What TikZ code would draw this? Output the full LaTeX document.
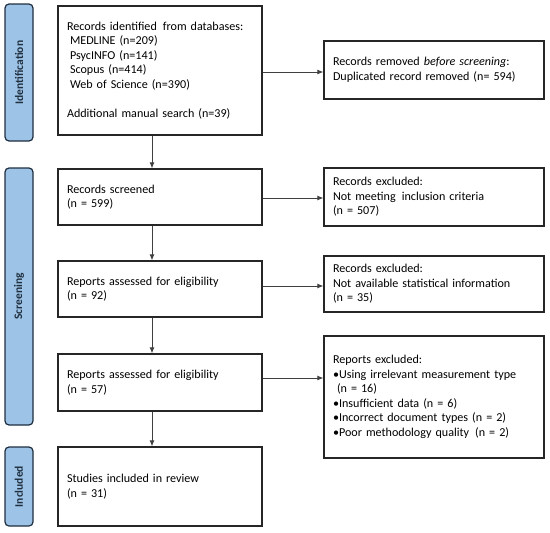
\documentclass[tikz,border=0pt]{standalone}
\usepackage{fontspec}
\setmainfont{Carlito}
\usetikzlibrary{arrows.meta}
\definecolor{phasefill}{HTML}{9DC3E6}
\definecolor{phaseline}{HTML}{1F2F3F}
\definecolor{arrowgray}{HTML}{404040}
\begin{document}
\begin{tikzpicture}[x=1pt,y=-1pt,
  box/.style={draw=black!85,line width=1.3pt,fill=white,inner sep=0pt,
    font=\fontsize{12.1}{14.5}\selectfont,align=left},
  mainbox/.style={box,minimum width=204pt,text width=186pt},
  sidebox/.style={box,minimum width=220pt,text width=202pt},
  phase/.style={draw=phaseline,fill=phasefill,line width=1.2pt,rounded corners=4pt,
    minimum width=28pt,inner sep=0pt},
  phasetext/.style={rotate=90,font=\fontsize{11.5}{13}\selectfont\bfseries,text=phaseline},
  arr/.style={draw=arrowgray,line width=0.8pt,-{Latex[length=6pt,width=5pt]}}]
\useasboundingbox (0,0) rectangle (550,533);
% phase bars
\node[phase,minimum height=137pt] (p1) at (19,72.5) {};
\node[phasetext] (p1t) at (p1.center) {Identification};
\node[phase,minimum height=257pt] (p2) at (19,296.5) {};
\node[phasetext] (p2t) at (p2.center) {Screening};
\node[phase,minimum height=79pt] (p3) at (19,486.5) {};
\node[phasetext] (p3t) at (p3.center) {Included};
% main boxes
\node[mainbox,minimum height=129pt] (b1) at (160,70.5) {Records identified\, from databases:\\
\hspace{3pt}MEDLINE (n=209)\\
\hspace{3pt}PsycINFO (n=141)\\
\hspace{3pt}Scopus (n=414)\\
\hspace{3pt}Web of Science (n=390)\\[14.5pt]
Additional manual search (n=39)};
\node[mainbox,minimum height=56pt] (b2) at (160,197) {Records screened\\(n = 599)};
\node[mainbox,minimum height=56pt] (b3) at (160,289) {Reports assessed for eligibility\\(n = 92)};
\node[mainbox,minimum height=57pt] (b4) at (160,382.5) {Reports assessed for eligibility\\(n = 57)};
\node[mainbox,minimum height=79pt] (b5) at (160,486.5) {Studies included in review\\(n = 31)};
% side boxes
\node[sidebox,minimum height=58pt] (r1) at (434,70) {Records removed \textit{before screening}:\\Duplicated record removed (n= 594)};
\node[sidebox,minimum height=58pt] (r2) at (434,197) {Records excluded:\\Not meeting\, inclusion criteria\\(n = 507)};
\node[sidebox,minimum height=56pt] (r3) at (434,284) {Records excluded:\\Not available statistical information\\(n = 35)};
\node[sidebox,minimum height=122pt] (r4) at (434,397) {Reports excluded:\\
\textbullet Using irrelevant measurement type\\
\hspace{4pt}(n = 16)\\
\textbullet Insufficient data (n = 6)\\
\textbullet Incorrect document types (n = 2)\\
\textbullet Poor methodology quality\, (n = 2)};
% helper coordinates
\coordinate (ax) at (152,0);
\coordinate (h1) at (0,72);
\coordinate (h2) at (0,198);
\coordinate (h3) at (0,286);
\coordinate (h4) at (0,378);
% vertical arrows
\draw[arr] (b1.south -| ax) -- (b2.north -| ax);
\draw[arr] (b2.south -| ax) -- (b3.north -| ax);
\draw[arr] (b3.south -| ax) -- (b4.north -| ax);
\draw[arr] (b4.south -| ax) -- (b5.north -| ax);
% horizontal arrows
\draw[arr] (b1.east |- h1) -- (r1.west |- h1);
\draw[arr] (b2.east |- h2) -- (r2.west |- h2);
\draw[arr] (b3.east |- h3) -- (r3.west |- h3);
\draw[arr] (b4.east |- h4) -- (r4.west |- h4);
\end{tikzpicture}
\end{document}
